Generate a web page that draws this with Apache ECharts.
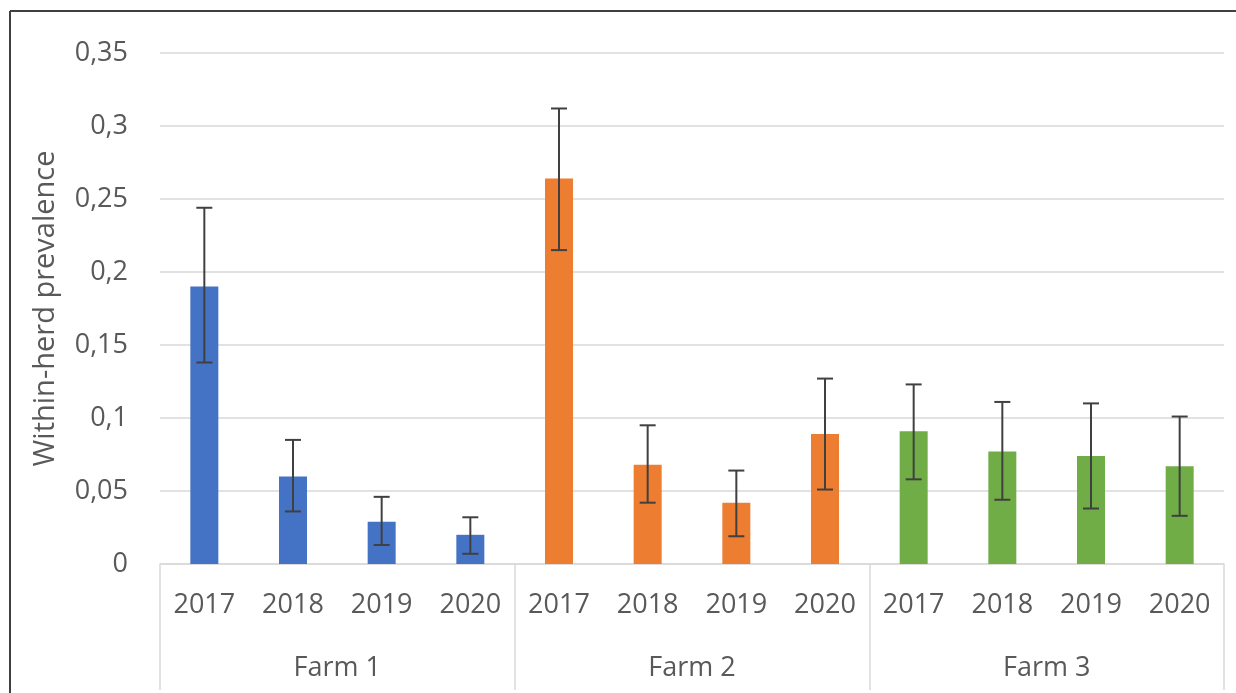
<!DOCTYPE html>
<html>
<head>
<meta charset="utf-8">
<script src="https://cdn.jsdelivr.net/npm/echarts@6/dist/echarts.min.js"></script>
<style>
html,body{margin:0;padding:0;background:#fff;}
#c{width:1236px;height:693px;}
</style>
</head>
<body>
<div id="c"></div>
<script>
var years = ['2017','2018','2019','2020'];
var farms = ['Farm 1','Farm 2','Farm 3'];
var farm1 = [0.190, 0.060, 0.029, 0.020];
var farm2 = [0.264, 0.068, 0.042, 0.089];
var farm3 = [0.091, 0.077, 0.074, 0.067];
var farm1Low = [0.138, 0.036, 0.013, 0.007];
var farm1High = [0.244, 0.085, 0.046, 0.032];
var farm2Low = [0.215, 0.042, 0.019, 0.051];
var farm2High = [0.312, 0.095, 0.064, 0.127];
var farm3Low = [0.058, 0.044, 0.038, 0.033];
var farm3High = [0.123, 0.111, 0.110, 0.101];
var yTicks = ['0','0,05','0,1','0,15','0,2','0,25','0,3','0,35'];
var farmColors = ['#4472C4','#ED7D31','#70AD47'];

var cats = [];
farms.forEach(function(){ years.forEach(function(y){ cats.push(y); }); });
var vals = [farm1, farm2, farm3];
var lows = [farm1Low, farm2Low, farm3Low];
var highs = [farm1High, farm2High, farm3High];
var barData = [], errData = [];
for (var f = 0; f < 3; f++) {
  for (var i = 0; i < 4; i++) {
    var idx = f * 4 + i;
    barData.push({value: vals[f][i], itemStyle: {color: farmColors[f]}});
    errData.push([idx, lows[f][i], highs[f][i]]);
  }
}

var font = '"Open Sans", sans-serif';
var chart = echarts.init(document.getElementById('c'));
chart.setOption({
  animation: false,
  grid: {left: 160, right: 12, top: 53, bottom: 129, containLabel: false},
  xAxis: [{
    type: 'category', data: cats, position: 'bottom',
    axisLine: {show: true, lineStyle: {color: '#d9d9d9', width: 1.5}},
    axisTick: {show: false},
    axisLabel: {color: '#595959', fontSize: 27, fontFamily: font, margin: 26, lineHeight: 30, interval: 0}
  }, {
    type: 'category', data: farms, position: 'bottom', gridIndex: 0,
    axisLine: {show: false},
    axisTick: {show: true, length: 126, lineStyle: {color: '#d9d9d9', width: 1.5}},
    axisLabel: {color: '#595959', fontSize: 27, fontFamily: font, margin: 89, lineHeight: 30}
  }],
  yAxis: {
    type: 'value', min: 0, max: 0.35, interval: 0.05,
    name: 'Within-herd prevalence', nameLocation: 'middle', nameGap: 100,
    nameTextStyle: {color: '#595959', fontSize: 29, fontFamily: font},
    axisLine: {show: false}, axisTick: {show: false},
    splitLine: {lineStyle: {color: '#d9d9d9', width: 1.5}},
    axisLabel: {color: '#595959', fontSize: 27, fontFamily: font, margin: 32,
      formatter: function(v){ return yTicks[Math.round(v / 0.05)]; }}
  },
  series: [{
    type: 'bar', data: barData, barWidth: 28, xAxisIndex: 0
  }, {
    type: 'custom', xAxisIndex: 0, data: errData, z: 10,
    renderItem: function(params, api) {
      var x = api.value(0);
      var lo = api.coord([x, api.value(1)]);
      var hi = api.coord([x, api.value(2)]);
      var w = 8;
      var st = {stroke: '#404040', lineWidth: 2};
      return {type: 'group', children: [
        {type: 'line', shape: {x1: lo[0], y1: lo[1], x2: hi[0], y2: hi[1]}, style: st},
        {type: 'line', shape: {x1: lo[0]-w, y1: lo[1], x2: lo[0]+w, y2: lo[1]}, style: st},
        {type: 'line', shape: {x1: hi[0]-w, y1: hi[1], x2: hi[0]+w, y2: hi[1]}, style: st}
      ]};
    }
  }],
  graphic: [
    {type: 'line', shape: {x1: 10, y1: 11, x2: 1236, y2: 11}, style: {stroke: '#404040', lineWidth: 2}},
    {type: 'line', shape: {x1: 10, y1: 11, x2: 10, y2: 693}, style: {stroke: '#404040', lineWidth: 2}}
  ]
});
</script>
</body>
</html>
